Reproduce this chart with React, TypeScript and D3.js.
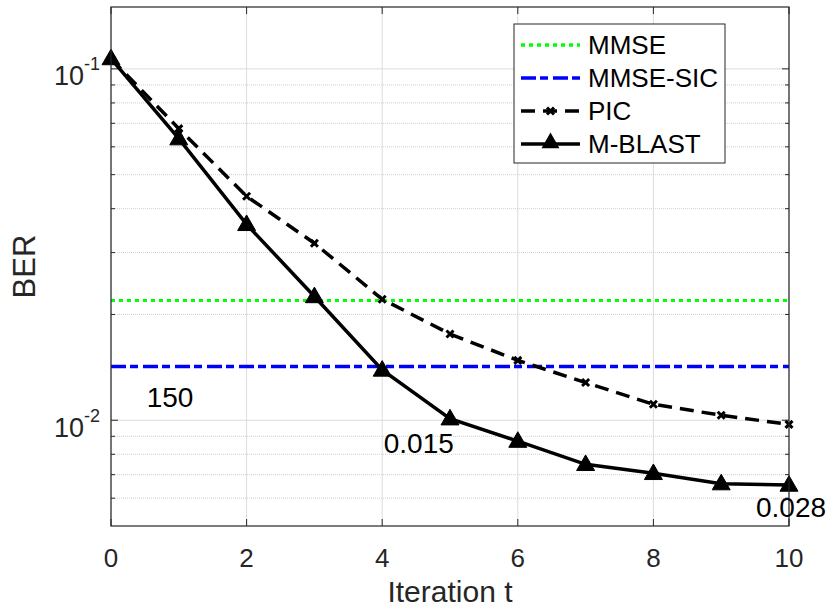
import React, { useEffect, useRef } from "react";
import * as d3 from "d3";

const iterations = [0, 1, 2, 3, 4, 5, 6, 7, 8, 9, 10];
const picBer = [0.107, 0.0676, 0.0434, 0.0319, 0.0221, 0.0176, 0.0148, 0.0128, 0.0111, 0.01033, 0.00973];
const mblastBer = [0.107, 0.0633, 0.0361, 0.0225, 0.0139, 0.0101, 0.00872, 0.00749, 0.00706, 0.0066, 0.00654];
const mmseBer = 0.0219;
const mmseSicBer = 0.01422;
const xTicks = [0, 2, 4, 6, 8, 10];
const yMajor = [0.01, 0.1];
const annotations = [
  { text: "150", t: 0.87, v: 0.01094 },
  { text: "0.015", t: 4.54, v: 0.00809 },
  { text: "0.028", t: 10.03, v: 0.00532 },
];

const W = 830;
const H = 609;
const font = "'Liberation Sans', Arial, sans-serif";
const dotDash = "4,4";
const dashDot = "15,4,8,5";
const dashed = "14,8";

export default function App() {
  const ref = useRef<SVGSVGElement>(null);

  useEffect(() => {
    const svg = d3.select(ref.current);
    svg.selectAll("*").remove();

    const left = 111, right = 789, top = 7, bottom = 526;
    const x = d3.scaleLinear().domain([0, 10]).range([left, right]);
    const y = d3.scaleLog().domain([0.005, 0.15]).range([bottom, top]);

    const minor: number[] = [];
    for (const dec of [0.001, 0.01, 0.1]) {
      for (let k = 2; k <= 9; k++) {
        const v = dec * k;
        if (v > 0.0051 && v < 0.15) minor.push(v);
      }
    }

    svg.append("rect").attr("x", left).attr("y", top).attr("width", right - left).attr("height", bottom - top).attr("fill", "#fff");

    // grid
    const grid = svg.append("g");
    grid.selectAll("line.gx").data(xTicks).join("line")
      .attr("x1", (d) => x(d)).attr("x2", (d) => x(d)).attr("y1", top).attr("y2", bottom)
      .attr("stroke", "#dcdcdc").attr("stroke-width", 1);
    grid.selectAll("line.gy").data(yMajor).join("line")
      .attr("x1", left).attr("x2", right).attr("y1", (d) => y(d)).attr("y2", (d) => y(d))
      .attr("stroke", "#dcdcdc").attr("stroke-width", 1);
    grid.selectAll("line.gm").data(minor).join("line")
      .attr("x1", left).attr("x2", right).attr("y1", (d) => y(d)).attr("y2", (d) => y(d))
      .attr("stroke", "#d0d0d0").attr("stroke-width", 1).attr("stroke-dasharray", "1,1");

    // tick marks (inside, both sides)
    const ticks = svg.append("g").attr("stroke", "#262626").attr("stroke-width", 1);
    xTicks.forEach((d) => {
      ticks.append("line").attr("x1", x(d)).attr("x2", x(d)).attr("y1", bottom).attr("y2", bottom - 7);
      ticks.append("line").attr("x1", x(d)).attr("x2", x(d)).attr("y1", top).attr("y2", top + 7);
    });
    yMajor.forEach((d) => {
      ticks.append("line").attr("x1", left).attr("x2", left + 7).attr("y1", y(d)).attr("y2", y(d));
      ticks.append("line").attr("x1", right).attr("x2", right - 7).attr("y1", y(d)).attr("y2", y(d));
    });
    minor.forEach((d) => {
      ticks.append("line").attr("x1", left).attr("x2", left + 4).attr("y1", y(d)).attr("y2", y(d));
      ticks.append("line").attr("x1", right).attr("x2", right - 4).attr("y1", y(d)).attr("y2", y(d));
    });

    // reference lines
    svg.append("line").attr("x1", left).attr("x2", right).attr("y1", y(mmseBer)).attr("y2", y(mmseBer))
      .attr("stroke", "#00ff00").attr("stroke-width", 3).attr("stroke-dasharray", dotDash);
    svg.append("line").attr("x1", left).attr("x2", right).attr("y1", y(mmseSicBer)).attr("y2", y(mmseSicBer))
      .attr("stroke", "#0000ff").attr("stroke-width", 3.5).attr("stroke-dasharray", dashDot);

    const line = d3.line<number>().x((_, i) => x(iterations[i])).y((d) => y(d));

    svg.append("path").attr("d", line(picBer)).attr("fill", "none")
      .attr("stroke", "#000").attr("stroke-width", 3.5).attr("stroke-dasharray", dashed);
    svg.append("path").attr("d", line(mblastBer)).attr("fill", "none")
      .attr("stroke", "#000").attr("stroke-width", 3.5);

    const cross = (g: d3.Selection<SVGGElement, unknown, null, undefined>, cx: number, cy: number, s: number) => {
      g.append("path").attr("d", `M${cx - s},${cy - s}L${cx + s},${cy + s}M${cx - s},${cy + s}L${cx + s},${cy - s}`)
        .attr("stroke", "#000").attr("stroke-width", 3).attr("fill", "none");
    };
    const marks = svg.append("g");
    picBer.forEach((d, i) => { if (i > 0) cross(marks, x(iterations[i]), y(d), 3.5); });
    const tri = d3.symbol().type(d3.symbolTriangle).size(140);
    marks.selectAll("path.tri").data(mblastBer).join("path")
      .attr("d", tri).attr("transform", (d, i) => `translate(${x(iterations[i])},${y(d) + 1})`)
      .attr("fill", "#000").attr("stroke", "#000").attr("stroke-width", 1);

    // box
    svg.append("rect").attr("x", left).attr("y", top).attr("width", right - left).attr("height", bottom - top)
      .attr("fill", "none").attr("stroke", "#262626").attr("stroke-width", 1.2);

    // tick labels
    svg.append("g").selectAll("text").data(xTicks).join("text")
      .attr("x", (d) => x(d)).attr("y", 567).attr("text-anchor", "middle")
      .attr("font-family", font).attr("font-size", 26).attr("fill", "#262626").text((d) => d);
    yMajor.forEach((d) => {
      const t = svg.append("text").attr("x", 100).attr("y", y(d) + 16.5).attr("text-anchor", "end")
        .attr("font-family", font).attr("font-size", 27).attr("fill", "#262626");
      t.append("tspan").text("10");
      t.append("tspan").attr("dy", -15).attr("font-size", 18).text(`${Math.round(Math.log10(d))}`);
    });

    // axis labels
    svg.append("text").attr("x", (left + right) / 2).attr("y", 602).attr("text-anchor", "middle")
      .attr("font-family", font).attr("font-size", 30).attr("fill", "#262626").text("Iteration t");
    svg.append("text").attr("transform", `translate(35,${(top + bottom) / 2}) rotate(-90)`).attr("text-anchor", "middle")
      .attr("font-family", font).attr("font-size", 31).attr("fill", "#262626").text("BER");

    // annotations
    annotations.forEach((a) => {
      svg.append("text").attr("x", x(a.t)).attr("y", y(a.v)).attr("text-anchor", "middle")
        .attr("font-family", font).attr("font-size", 28).attr("fill", "#000").text(a.text);
    });

    // legend
    const lg = svg.append("g").attr("transform", "translate(514,24)");
    lg.append("rect").attr("width", 211).attr("height", 139).attr("fill", "#fff").attr("stroke", "#262626").attr("stroke-width", 1);
    const items = [
      { name: "MMSE", color: "#00ff00", dash: dotDash, marker: "" },
      { name: "MMSE-SIC", color: "#0000ff", dash: dashDot, marker: "" },
      { name: "PIC", color: "#000", dash: dashed, marker: "x" },
      { name: "M-BLAST", color: "#000", dash: "", marker: "tri" },
    ];
    items.forEach((it, i) => {
      const cy = 21 + i * 33;
      lg.append("line").attr("x1", 7).attr("x2", 66).attr("y1", cy).attr("y2", cy)
        .attr("stroke", it.color).attr("stroke-width", 3.5).attr("stroke-dasharray", it.dash || null);
      if (it.marker === "x") cross(lg, 36.5, cy, 3.5);
      if (it.marker === "tri") lg.append("path").attr("d", tri).attr("transform", `translate(36.5,${cy - 1})`).attr("fill", "#000");
      lg.append("text").attr("x", 74).attr("y", cy + 9).attr("font-family", font).attr("font-size", 26)
        .attr("fill", "#000").text(it.name);
    });
  }, []);

  return <svg ref={ref} width={W} height={H} style={{ position: "absolute", left: 0, top: 0 }} />;
}
